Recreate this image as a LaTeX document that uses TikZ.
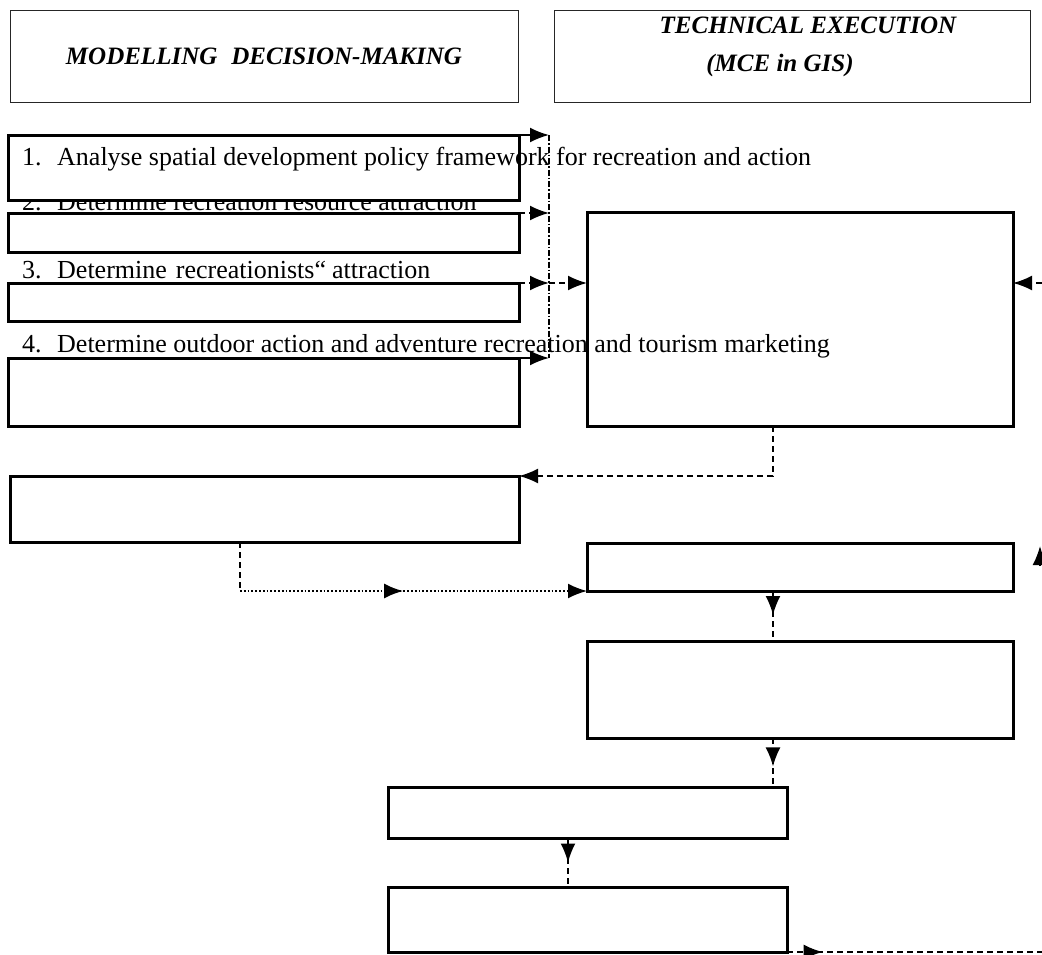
\documentclass[tikz,border=0pt]{standalone}
\usepackage{fontspec}
\setmainfont{Liberation Serif}
\usetikzlibrary{arrows.meta,decorations.markings,positioning}

\tikzset{
  stagebox/.style={draw, line width=3pt, fill=white, inner sep=0pt, outer sep=0pt},
  headbox/.style={draw=black!85, line width=1pt, inner sep=0pt, outer sep=0pt},
  itemtext/.style={anchor=base west, inner sep=0pt, font=\fontsize{26}{30}\selectfont},
  headtext/.style={inner sep=0pt, font=\fontsize{25}{29}\selectfont\bfseries\itshape},
  link/.style={line width=1.8pt, dash pattern=on 6pt off 4pt},
  arrowend/.style={-{Latex[length=19pt,width=15pt]}},
  midtip/.style={postaction={decorate}, decoration={markings,
      mark=at position #1 with {\arrow{Latex[length=19pt,width=15pt]}}}},
}

\begin{document}
\begin{tikzpicture}[x=1pt, y=-1pt]
  \useasboundingbox (0,0) rectangle (1042,954);

  %% headers
  \node[headbox, minimum width=508pt, minimum height=92pt] (head left) at (264,56) {};
  \node[headbox, minimum width=476pt, minimum height=92pt] (head right) at (792,56) {};
  \node[headtext] (head left txt) at (head left) {MODELLING\hspace{14pt}DECISION-MAKING};
  \node[headtext] (head tech) at (808,25) {TECHNICAL EXECUTION};
  \node[headtext] (head mce) at (780,65) {(MCE in GIS)};

  %% second item sits under box A
  \node[itemtext] (t2) at (22,210) {\makebox[35pt][l]{2.}Determine recreation resource attraction};

  %% boxes, left column
  \node[stagebox, minimum width=511pt, minimum height=65pt] (A) at (263.5,167.5) {};
  \node[stagebox, minimum width=511pt, minimum height=39pt] (B) at (263.5,232.5) {};
  \node[stagebox, minimum width=511pt, minimum height=38pt] (C) at (263.5,302) {};
  \node[stagebox, minimum width=511pt, minimum height=68pt] (D) at (263.5,392) {};
  \node[stagebox, minimum width=509pt, minimum height=66pt] (F) at (264.5,509) {};
  %% boxes, right column
  \node[stagebox, minimum width=426pt, minimum height=214pt] (E) at (800,319) {};
  \node[stagebox, minimum width=426pt, minimum height=48pt] (G) at (800,567) {};
  \node[stagebox, minimum width=426pt, minimum height=97pt] (H) at (800,689.5) {};
  %% boxes, bottom
  \node[stagebox, minimum width=399pt, minimum height=51pt] (I) at (587.5,812.5) {};
  \node[stagebox, minimum width=399pt, minimum height=65pt] (J) at (587.5,919.5) {};

  %% items
  \node[itemtext] (t1) at (22,165) {\makebox[35pt][l]{1.}Analyse spatial development policy framework for recreation and action};
  \node[itemtext] (t3) at (22,278) {\makebox[35pt][l]{3.}Determine\hspace{9pt}recreationists“\hspace{6pt}attraction};
  \node[itemtext] (t4) at (22,352) {\makebox[35pt][l]{4.}Determine outdoor action and adventure recreation and tourism marketing};

  %% collector line
  \coordinate (bus) at (549,0);
  \draw[line width=1.6pt, dash pattern=on 6pt off 2pt on 1.5pt off 2pt]
      (A.north east -| bus) -- (D.north east -| bus);
  \draw[line width=1.8pt, arrowend] (A.north east) -- (A.north east -| bus);
  \draw[link, arrowend] (B.north east) -- (B.north east -| bus);
  \draw[link, arrowend] (C.north east) -- (C.north east -| bus);
  \draw[link, arrowend] (C.north east -| bus) -- (C.north east -| E.west);
  \draw[line width=1.8pt, arrowend] (D.north east) -- (D.north east -| bus);

  %% right edge
  \coordinate (right in) at (1042,283);
  \draw[link, arrowend] (right in) -- (right in -| E.east);
  \coordinate (up stem) at (1040,566);
  \coordinate (up tip) at (1040,546);
  \draw[line width=1.8pt, arrowend] (up stem) -- (up tip);

  %% down the middle
  \coordinate (col) at (773,0);
  \draw[link, arrowend] (E.south -| col) |- (F.north east);
  \coordinate (fdrop) at (240,591);
  \draw[link] (F.south -| fdrop) -- (fdrop);
  \draw[line width=1.8pt, dotted, midtip=0.47, arrowend] (fdrop) -- (G.south west);
  \draw[link, midtip=0.48] (G.south -| col) -- (H.north -| col);
  \draw[link, midtip=0.58] (H.south -| col) -- (I.north -| col);
  \coordinate (jcol) at (568,0);
  \draw[link, midtip=0.5] (I.south -| jcol) -- (J.north -| jcol);
  \coordinate (right out) at (1042,952);
  \draw[link, midtip=0.14] (J.south east) -- (right out);
\end{tikzpicture}
\end{document}
